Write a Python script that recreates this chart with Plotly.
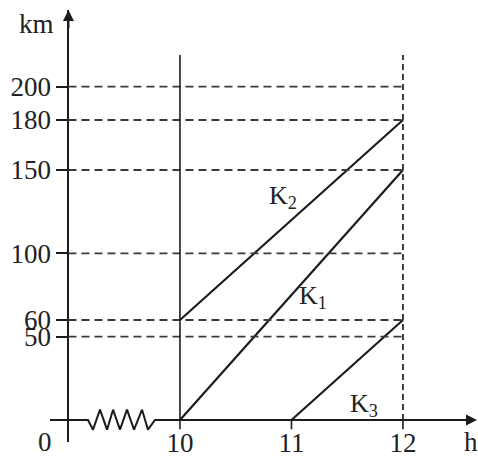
import plotly.graph_objects as go

# Journey data: time of day (h) vs distance travelled (km)
k1_hours = [10, 12]
k1_km = [0, 150]
k2_hours = [10, 12]
k2_km = [60, 180]
k3_hours = [11, 12]
k3_km = [0, 60]

x_ticks = [10, 11, 12]
x_tick_labels = ["10", "11", "12"]
y_ticks = [50, 60, 100, 150, 180, 200]
y_tick_labels = ["50", "60", "100", "150", "180", "200"]

# Axis geometry (data units)
X_RANGE = [8.386, 12.673]
Y_RANGE = [-13.2, 246.0]
Y_DOMAIN = [17 / 459, 449 / 459]
Y_AXIS_X = 9.0          # where the (broken) distance axis stands
GUIDE_TOP = 219         # top of the vertical guides at 10 h and 12 h

INK = "#1c1c1c"
TEXT = "#222222"
FONT = "Liberation Serif"

def x_paper(x):
    return (x - X_RANGE[0]) / (X_RANGE[1] - X_RANGE[0])

def y_paper(y):
    return Y_DOMAIN[0] + (y - Y_RANGE[0]) / (Y_RANGE[1] - Y_RANGE[0]) * (Y_DOMAIN[1] - Y_DOMAIN[0])

fig = go.Figure()

# Time axis with a zigzag break between 0 and 10 h
zig_x = [8.834, 9.175, 9.220, 9.283, 9.346, 9.400, 9.462, 9.525, 9.588, 9.660, 9.713, 9.776, 10.0, 12.60]
zig_y = [0, 0, -5.8, 6.2, -5.8, 6.2, -5.8, 6.2, -5.8, 6.2, -5.8, 0, 0, 0]
fig.add_trace(go.Scatter(x=zig_x, y=zig_y, mode="lines",
                         line=dict(color=INK, width=2), hoverinfo="skip",
                         showlegend=False, cliponaxis=False))

# Short tick marks hanging below the time axis
for t in x_ticks:
    fig.add_shape(type="line", xref="x", yref="y", x0=t, x1=t, y0=0, y1=-5.6,
                  line=dict(color=INK, width=1.6))

# Dashed guides for the distance marks
for v in y_ticks:
    fig.add_shape(type="line", xref="x", yref="y", x0=Y_AXIS_X, x1=12, y0=v, y1=v,
                  line=dict(color="#3a3a3a", width=1.8, dash="8px,5px"))

# Vertical guides at 10 h (solid) and 12 h (dashed)
fig.add_shape(type="line", xref="x", yref="y", x0=10, x1=10, y0=0, y1=GUIDE_TOP,
              line=dict(color=INK, width=1.6))
fig.add_shape(type="line", xref="x", yref="y", x0=12, x1=12, y0=0, y1=GUIDE_TOP,
              line=dict(color="#2a2a2a", width=1.8, dash="6px,4px"))

# Travel lines
for hx, ky in [(k1_hours, k1_km), (k2_hours, k2_km), (k3_hours, k3_km)]:
    fig.add_trace(go.Scatter(x=hx, y=ky, mode="lines",
                             line=dict(color=INK, width=2.2),
                             hoverinfo="skip", showlegend=False))

annotations = []
# Arrowheads on both axes
annotations.append(dict(x=Y_AXIS_X, y=Y_RANGE[1], ax=Y_AXIS_X, ay=Y_RANGE[1] - 12,
                        xref="x", yref="y", axref="x", ayref="y", text="",
                        showarrow=True, arrowhead=2, arrowsize=1.1, arrowwidth=2,
                        arrowcolor=INK, standoff=0))
annotations.append(dict(x=12.664, y=0, ax=12.55, ay=0,
                        xref="x", yref="y", axref="x", ayref="y", text="",
                        showarrow=True, arrowhead=2, arrowsize=1.1, arrowwidth=2,
                        arrowcolor=INK, standoff=0))

label_font = dict(family=FONT, size=27, color=TEXT)
annotations.append(dict(x=36 / 478, y=1 - 24 / 459, xref="paper", yref="paper",
                        xanchor="center", yanchor="middle",
                        text="km", showarrow=False, font=label_font))
for txt, px in [("h", 471), ("0", 45)]:
    annotations.append(dict(x=px / 478, y=0, xref="paper", yref="paper",
                            xanchor="center", yanchor="bottom",
                            text=txt, showarrow=False, font=label_font))

# Line names
for name, lx, ly in [("K<sub>2</sub>", 10.92, 134), ("K<sub>1</sub>", 11.19, 74),
                     ("K<sub>3</sub>", 11.65, 9)]:
    annotations.append(dict(x=lx, y=ly, xref="x", yref="y", text=name,
                            xanchor="center", yanchor="middle",
                            showarrow=False, font=dict(family=FONT, size=26, color=TEXT)))

fig.update_layout(
    width=478, height=459,
    margin=dict(l=0, r=0, t=0, b=0, autoexpand=False),
    paper_bgcolor="white", plot_bgcolor="white",
    showlegend=False,
    annotations=annotations,
    xaxis=dict(range=X_RANGE, domain=[0, 1], anchor="free", position=y_paper(0),
               automargin=False,
               tickmode="array", tickvals=x_ticks, ticktext=x_tick_labels,
               ticks="", ticklabelstandoff=4,
               showline=False, showgrid=False, zeroline=False,
               tickfont=dict(family=FONT, size=27, color=TEXT)),
    yaxis=dict(range=Y_RANGE, domain=Y_DOMAIN, anchor="free", position=x_paper(Y_AXIS_X),
               automargin=False,
               tickmode="array", tickvals=y_ticks, ticktext=y_tick_labels,
               ticks="outside", ticklen=11, tickwidth=1.6, tickcolor=INK,
               showline=True, linewidth=2, linecolor=INK,
               showgrid=False, zeroline=False,
               tickfont=dict(family=FONT, size=27, color=TEXT)),
)

fig.write_html("out.html")
